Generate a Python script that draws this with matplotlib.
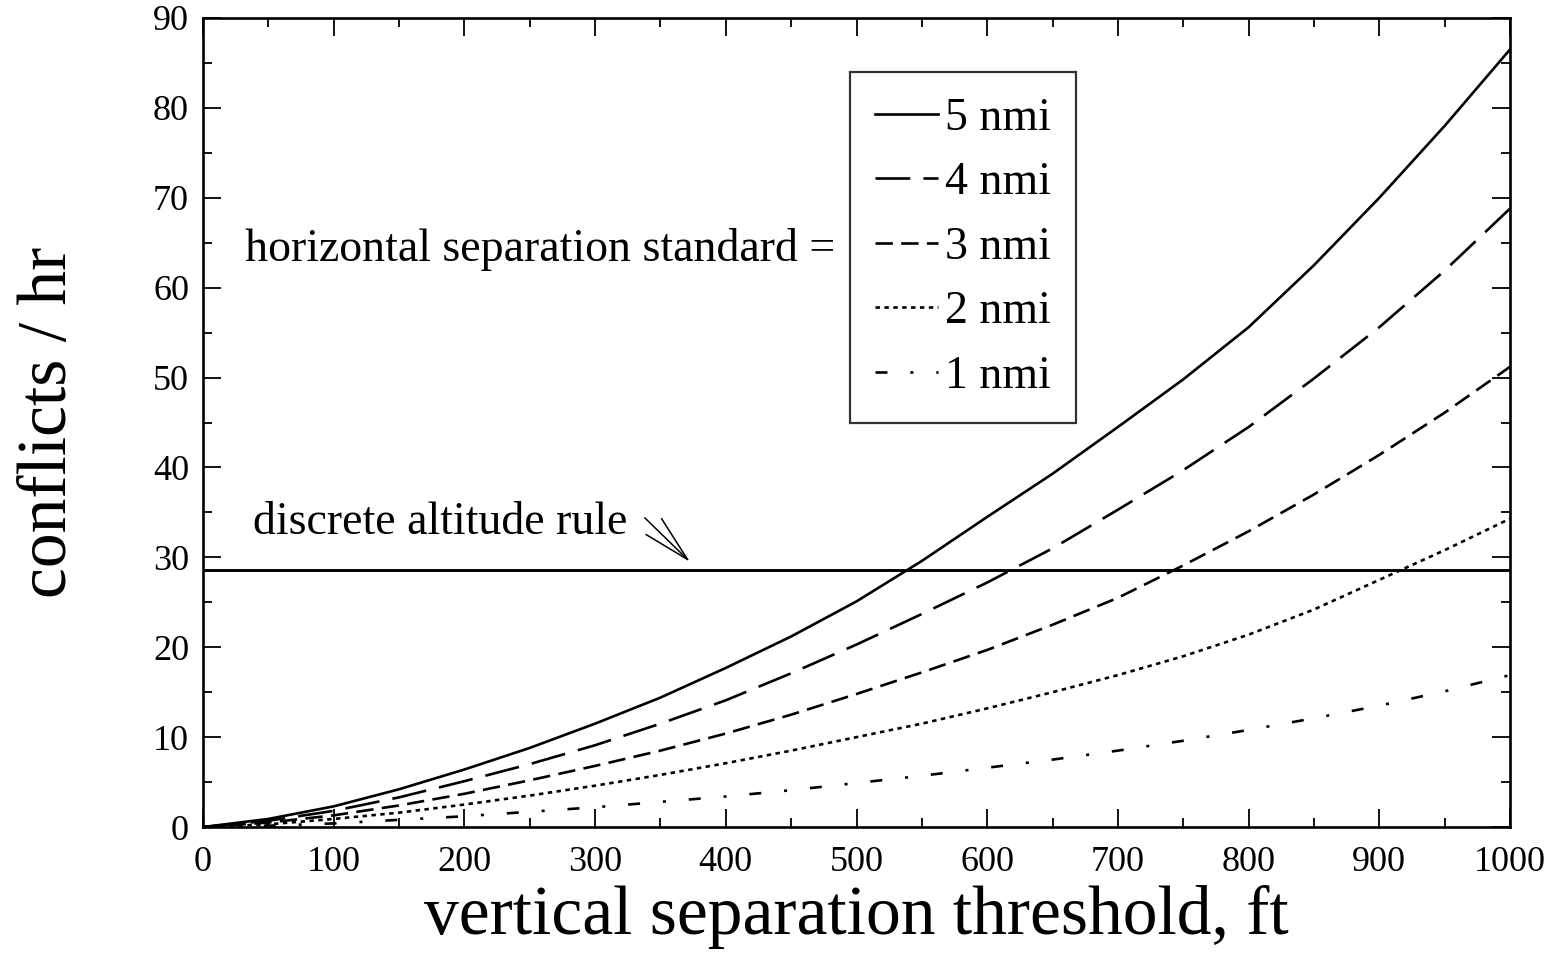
import matplotlib
matplotlib.use('Agg')
import matplotlib.pyplot as plt
from matplotlib.ticker import MultipleLocator

plt.rcParams['font.family'] = ['Liberation Serif', 'DejaVu Serif']
plt.rcParams['lines.scale_dashes'] = False

# data
threshold_ft = [0, 50, 100, 150, 200, 250, 300, 350, 400, 450, 500,
                550, 600, 650, 700, 750, 800, 850, 900, 950, 1000]
nmi5 = [0, 0.9, 2.3, 4.2, 6.4, 8.8, 11.5, 14.4, 17.7, 21.2, 25.1,
        29.6, 34.5, 39.3, 44.5, 49.8, 55.6, 62.5, 70.0, 78.0, 86.5]
nmi4 = [0, 0.7, 1.8, 3.3, 5.1, 7.0, 9.1, 11.5, 14.1, 17.1, 20.3,
        23.7, 27.2, 31.0, 35.3, 39.7, 44.5, 49.9, 55.6, 61.9, 68.8]
nmi3 = [0, 0.5, 1.3, 2.4, 3.7, 5.2, 6.8, 8.5, 10.4, 12.5, 14.8,
        17.2, 19.7, 22.5, 25.5, 29.1, 32.9, 37.0, 41.4, 46.1, 51.2]
nmi2 = [0, 0.3, 0.9, 1.6, 2.5, 3.5, 4.6, 5.8, 7.1, 8.5, 10.0,
        11.5, 13.2, 15.0, 16.9, 19.0, 21.4, 24.2, 27.5, 30.8, 34.3]
nmi1 = [0, 0.15, 0.4, 0.8, 1.2, 1.7, 2.2, 2.8, 3.4, 4.1, 4.9,
        5.7, 6.6, 7.5, 8.5, 9.6, 10.8, 12.1, 13.5, 15.1, 16.9]
discrete_rule = 28.6

fig = plt.figure(figsize=(15.59, 9.61), dpi=100)
ax = fig.add_axes([0.1302, 0.1394, 0.8384, 0.8419])

lw = 1.9
ax.plot(threshold_ft, nmi5, color='black', lw=lw, label='5 nmi')
ax.plot(threshold_ft, nmi4, color='black', lw=lw, dashes=(25, 9.5), label='4 nmi')
ax.plot(threshold_ft, nmi3, color='black', lw=lw, dashes=(12.5, 6), label='3 nmi')
ax.plot(threshold_ft, nmi2, color='black', lw=lw, dashes=(3.2, 3.2), label='2 nmi')
ax.plot(threshold_ft, nmi1, color='black', lw=lw, dashes=(8.6, 16.5, 2.2, 16.5), label='1 nmi')
ax.axhline(discrete_rule, color='black', lw=2.1)

ax.set_xlim(0, 1000)
ax.set_ylim(0, 90)
ax.xaxis.set_major_locator(MultipleLocator(100))
ax.xaxis.set_minor_locator(MultipleLocator(50))
ax.yaxis.set_major_locator(MultipleLocator(10))
ax.yaxis.set_minor_locator(MultipleLocator(5))
ax.tick_params(which='both', direction='in', top=True, right=True, width=1.3)
ax.tick_params(which='major', length=13, labelsize=26)
ax.tick_params(axis='x', which='major', pad=14)
ax.tick_params(axis='y', which='major', pad=10)
ax.tick_params(which='minor', length=6.5)
for s in ax.spines.values():
    s.set_linewidth(1.9)

ax.set_xlabel('vertical separation threshold, ft', fontsize=50, labelpad=4)
ax.set_ylabel('conflicts / hr', fontsize=50, labelpad=52)

leg = ax.legend(loc='upper left', bbox_to_anchor=(0.495, 0.933), borderaxespad=0,
                fontsize=33, frameon=True, fancybox=False, edgecolor='black',
                handlelength=1.37, handletextpad=0.15, labelspacing=0.48,
                borderpad=0.55)
leg.get_frame().set_linewidth(1.6)

ax.text(483.6, 64.2, 'horizontal separation standard =', fontsize=33,
        ha='right', va='center')
ax.text(38, 33.8, 'discrete altitude rule', fontsize=33, ha='left', va='center')
ax.annotate('', xy=(372.6, 29.5), xytext=(338, 34.4),
            arrowprops=dict(arrowstyle='->,head_length=1.7,head_width=0.4',
                            color='black', lw=1.1, mutation_scale=20,
                            shrinkA=0, shrinkB=0))

plt.savefig('out.png', dpi=100)
